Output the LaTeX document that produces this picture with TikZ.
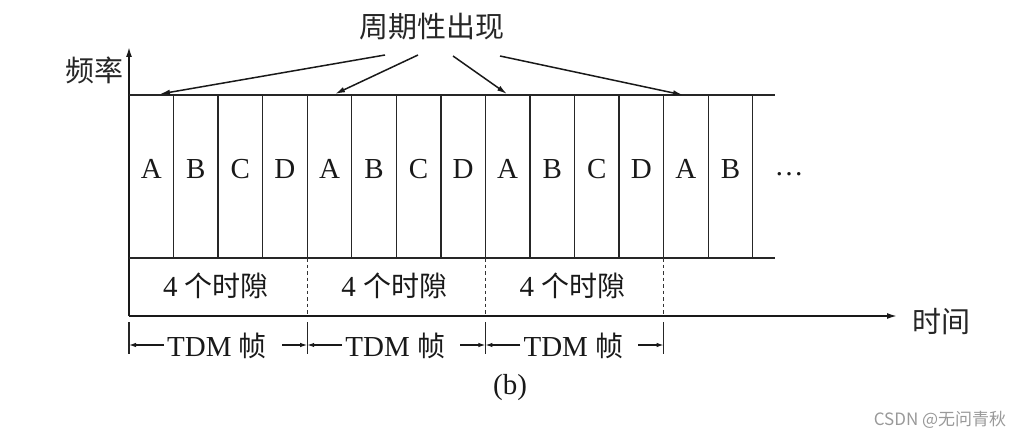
\documentclass[tikz,border=0pt]{standalone}
\usepackage{fontspec}
\setmainfont{Liberation Serif}
\newfontfamily\cjk{Noto Sans CJK SC}
\usetikzlibrary{arrows.meta}
\begin{document}
\begin{tikzpicture}[x=1pt,y=-1pt,
  slotline/.style={line width=1.3pt, draw=black!85},
  axisline/.style={line width=1.6pt, draw=black!90, -{Latex[length=10pt,width=6pt]}},
  ptr/.style={line width=1.5pt, draw=black!90, -{Latex[length=10pt,width=5.5pt]}},
  dim/.style={line width=1.2pt, draw=black!90, -{Latex[length=7pt,width=4.5pt]}},
  dashline/.style={line width=1.1pt, draw=black!80, dash pattern=on 3.5pt off 3pt},
  tick/.style={line width=1.1pt, draw=black!85},
  lat/.style={font=\fontsize{29}{31}\selectfont, inner sep=0pt, text=black!90},
  zh/.style={font=\cjk\fontsize{29}{31}\selectfont, inner sep=0pt, text=black!85},
  mix/.style={font=\fontsize{29}{31}\selectfont, inner sep=0pt, text=black!90},
]
\useasboundingbox (0,0) rectangle (1024,438);

% axes
\coordinate (o) at (129,316);
\coordinate (ytop) at (129,47);
\coordinate (xend) at (897,316);
\draw[axisline] (o) -- (ytop);
\draw[axisline] (o) -- (xend);

% top and bottom of slot band
\draw[slotline] (129,95) -- (775,95);
\draw[slotline] (129,258) -- (775,258);
\foreach \i in {1,...,14}
  \draw[slotline] (129+44.55*\i,95) -- (129+44.55*\i,258);

% slot letters
\foreach \l [count=\i from 0] in {A,B,C,D,A,B,C,D,A,B,C,D,A,B}
  \node[lat, anchor=base] (s\i) at (129+44.55*\i+22.3,179) {\l};
\node[lat] (dots) at (789,174) {…};

% dashed separators in the time-slot row
\foreach \k in {1,2,3}
  \draw[dashline] (129+178.2*\k,258) -- (129+178.2*\k,316);

% 4 time slots labels
\foreach \k in {0,1,2}
  \node[mix, anchor=base] (g\k) at (129+178.2*\k+87,296) {4 {\cjk\fontsize{28}{30}\selectfont 个时隙}};

% TDM frame ticks and arrows
\foreach \k in {0,1,2,3}{
  \draw[tick] (129+178.2*\k,322) -- (129+178.2*\k,354);
  \coordinate (tk\k) at (129+178.2*\k,345);
}
\foreach \k [evaluate=\k as \kk using int(\k+1)] in {0,1,2}{
  \node[mix, anchor=base] (f\k) at (129+178.2*\k+88,356) {TDM {\cjk\fontsize{28}{30}\selectfont 帧}};
  \coordinate (la\k) at (129+178.2*\k+35,345);
  \coordinate (ra\k) at (129+178.2*\k+153,345);
  \draw[dim] (la\k) -- (tk\k);
  \draw[dim] (ra\k) -- (tk\kk);
}

% title and pointer arrows
\node[zh] (title) at (432,27) {周期性出现};
\coordinate (a1) at (385,55);
\coordinate (a2) at (418,55);
\coordinate (a3) at (453,56);
\coordinate (a4) at (500,56);
\coordinate (b1) at (160,94);
\coordinate (b2) at (335,94);
\coordinate (b3) at (507,94);
\coordinate (b4) at (683,95);
\draw[ptr] (a1) -- (b1);
\draw[ptr] (a2) -- (b2);
\draw[ptr] (a3) -- (b3);
\draw[ptr] (a4) -- (b4);

% axis labels
\node[zh] (freq) at (94,70) {频率};
\node[zh] (time) at (941,322) {时间};

% caption
\node[lat, anchor=base] (cap) at (510,394) {(b)};

% watermark
\node[font=\cjk\fontsize{17}{20}\selectfont, text=black!40, inner sep=0pt] (wm) at (940,420) {CSDN @无问青秋};
\end{tikzpicture}
\end{document}
